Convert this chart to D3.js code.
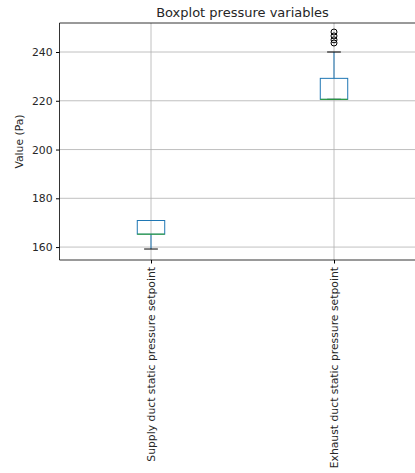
<!DOCTYPE html>
<html>
<head>
<meta charset="utf-8">
<script src="https://cdn.jsdelivr.net/npm/d3@7"></script>
<style>
  html, body { margin: 0; padding: 0; background: #fff; }
  svg { display: block; }
  text { font-family: "DejaVu Sans", sans-serif; fill: #262626; }
</style>
</head>
<body>
<svg id="chart" width="415" height="473"></svg>
<script>
// Pressure variables shown as box plots
const categories = ["Supply duct static pressure setpoint", "Exhaust duct static pressure setpoint"];
const whiskerLow = [159.2, 220.6];
const q1 = [165.3, 220.6];
const medians = [165.3, 220.6];
const q3 = [170.9, 229.2];
const whiskerHigh = [170.9, 240.0];
const outliers = [[], [248.2, 246.6, 245.0, 243.7]];
const yTicks = [160, 180, 200, 220, 240];

const svg = d3.select("#chart");
const margin = { left: 59.5, top: 23, bottom: 260, right: 425.5 };
const fs = 10.8;

const x = d3.scaleLinear().domain([0.5, 2.5]).range([margin.left, margin.right]);
const y = d3.scaleLinear().domain([154.7, 251.9]).range([margin.bottom, margin.top]);

svg.append("defs").append("clipPath").attr("id", "plot-clip")
  .append("rect").attr("x", margin.left).attr("y", margin.top)
  .attr("width", margin.right - margin.left).attr("height", margin.bottom - margin.top);

// grid
const grid = svg.append("g").attr("stroke", "#b0b0b0").attr("stroke-width", 0.8);
yTicks.forEach(t => {
  grid.append("line").attr("x1", margin.left).attr("x2", margin.right)
    .attr("y1", y(t)).attr("y2", y(t));
});
categories.forEach((c, i) => {
  grid.append("line").attr("x1", x(i + 1)).attr("x2", x(i + 1))
    .attr("y1", margin.top).attr("y2", margin.bottom);
});

// boxes
const boxW = 0.15, capW = 0.075;
const plot = svg.append("g").attr("clip-path", "url(#plot-clip)");
categories.forEach((c, i) => {
  const p = i + 1;
  // whiskers
  plot.append("line").attr("x1", x(p)).attr("x2", x(p))
    .attr("y1", y(q1[i])).attr("y2", y(whiskerLow[i]))
    .attr("stroke", "#1f77b4").attr("stroke-width", 1);
  plot.append("line").attr("x1", x(p)).attr("x2", x(p))
    .attr("y1", y(q3[i])).attr("y2", y(whiskerHigh[i]))
    .attr("stroke", "#1f77b4").attr("stroke-width", 1);
  // caps
  [whiskerLow[i], whiskerHigh[i]].forEach(v => {
    plot.append("line").attr("x1", x(p - capW / 2)).attr("x2", x(p + capW / 2))
      .attr("y1", y(v)).attr("y2", y(v))
      .attr("stroke", "#000").attr("stroke-width", 1);
  });
  // box
  plot.append("rect").attr("x", x(p - boxW / 2)).attr("y", y(q3[i]))
    .attr("width", x(p + boxW / 2) - x(p - boxW / 2))
    .attr("height", y(q1[i]) - y(q3[i]))
    .attr("fill", "none").attr("stroke", "#1f77b4").attr("stroke-width", 1);
  // median
  plot.append("line").attr("x1", x(p - boxW / 2)).attr("x2", x(p + boxW / 2))
    .attr("y1", y(medians[i])).attr("y2", y(medians[i]))
    .attr("stroke", "#2ca02c").attr("stroke-width", 1);
  // fliers
  outliers[i].forEach(v => {
    plot.append("circle").attr("cx", x(p)).attr("cy", y(v)).attr("r", 3)
      .attr("fill", "none").attr("stroke", "#000").attr("stroke-width", 1);
  });
});

// axes
const yAxis = d3.axisLeft(y).tickValues(yTicks).tickSize(3.5).tickPadding(3.5);
const gy = svg.append("g").attr("transform", `translate(${margin.left},0)`).call(yAxis);
gy.select(".domain").remove();
gy.selectAll("text").attr("font-size", fs).style("fill", "#262626");

const xAxis = d3.axisBottom(x).tickValues([1, 2]).tickSize(3.5).tickFormat(() => "");
const gx = svg.append("g").attr("transform", `translate(0,${margin.bottom})`).call(xAxis);
gx.select(".domain").remove();

categories.forEach((c, i) => {
  svg.append("text")
    .attr("transform", `translate(${x(i + 1) + 3.8},${margin.bottom + 7}) rotate(-90)`)
    .attr("text-anchor", "end").attr("font-size", fs)
    .text(c);
});

// spines
svg.append("g").attr("stroke", "#000").attr("stroke-width", 0.8).attr("fill", "none")
  .call(g => {
    g.append("line").attr("x1", margin.left).attr("x2", margin.right).attr("y1", margin.top).attr("y2", margin.top);
    g.append("line").attr("x1", margin.left).attr("x2", margin.right).attr("y1", margin.bottom).attr("y2", margin.bottom);
    g.append("line").attr("x1", margin.left).attr("x2", margin.left).attr("y1", margin.top).attr("y2", margin.bottom);
    g.append("line").attr("x1", margin.right).attr("x2", margin.right).attr("y1", margin.top).attr("y2", margin.bottom);
  });

// titles
svg.append("text").attr("x", (margin.left + margin.right) / 2).attr("y", 17)
  .attr("text-anchor", "middle").attr("font-size", 13).text("Boxplot pressure variables");
svg.append("text")
  .attr("transform", `translate(23,${(margin.top + margin.bottom) / 2}) rotate(-90)`)
  .attr("text-anchor", "middle").attr("font-size", fs).text("Value (Pa)");
</script>
</body>
</html>
